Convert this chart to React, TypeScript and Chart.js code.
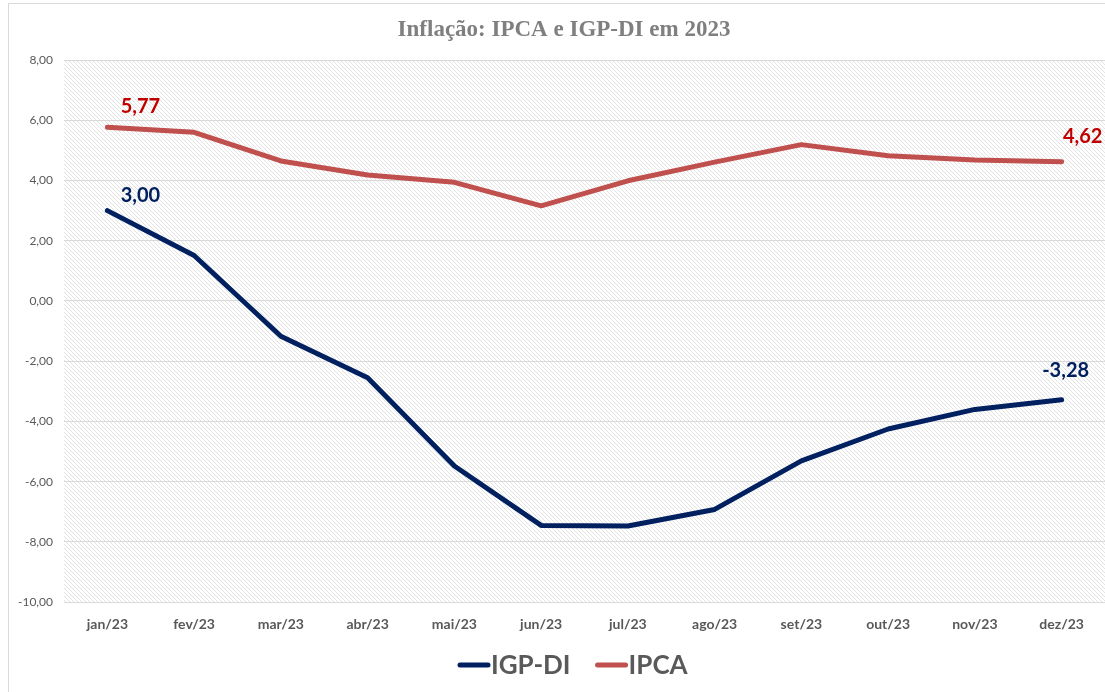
import React, { useEffect, useRef } from "react";
import { Chart, registerables } from "chart.js";

Chart.register(...registerables);

const categories = ["jan/23", "fev/23", "mar/23", "abr/23", "mai/23", "jun/23", "jul/23", "ago/23", "set/23", "out/23", "nov/23", "dez/23"];
const igpdi = [3.0, 1.51, -1.17, -2.55, -5.48, -7.45, -7.47, -6.92, -5.31, -4.25, -3.6, -3.28];
const ipca = [5.77, 5.6, 4.65, 4.18, 3.94, 3.16, 3.99, 4.61, 5.19, 4.82, 4.68, 4.62];
const seriesNames = ["IGP-DI", "IPCA"];
const titleText = "Inflação: IPCA e IGP-DI em 2023";
const yMin = -10;
const yMax = 8;
const yStep = 2;

const lineColors = ["#002060", "#c0504d"];
const labelColors = ["#002060", "#c00000"];
// [datasetIndex][first,last] offsets for end labels
const labelOffsets = [
  [[33, -15], [4, -29]],
  [[33, -21], [21, -25]],
];

function fmt(v: number) {
  return v.toFixed(2).replace(".", ",");
}

export default function App() {
  const ref = useRef<HTMLCanvasElement>(null);
  useEffect(() => {
    document.body.style.margin = "0";
    const canvas = ref.current!;
    const pc = document.createElement("canvas");
    pc.width = 4;
    pc.height = 4;
    const pctx = pc.getContext("2d")!;
    pctx.fillStyle = "#ffffff";
    pctx.fillRect(0, 0, 4, 4);
    pctx.fillStyle = "#e2e2e2";
    for (let i = 0; i < 4; i++) pctx.fillRect(i, i, 1, 1);

    const bgPlugin = {
      id: "bg",
      beforeDraw(chart: any) {
        const { ctx, chartArea } = chart;
        ctx.save();
        ctx.fillStyle = "#ffffff";
        ctx.fillRect(0, 0, chart.width, chart.height);
        const pat = ctx.createPattern(pc, "repeat");
        ctx.fillStyle = pat;
        ctx.fillRect(chartArea.left, chartArea.top, chartArea.right - chartArea.left, chartArea.bottom - chartArea.top);
        // outer frame
        ctx.strokeStyle = "#d9d9d9";
        ctx.lineWidth = 1;
        ctx.beginPath();
        ctx.moveTo(8.5, chart.height);
        ctx.lineTo(8.5, 3.5);
        ctx.lineTo(chart.width, 3.5);
        ctx.stroke();
        // title
        ctx.fillStyle = "#7f7f7f";
        ctx.font = "bold 23px 'Liberation Serif'";
        ctx.textAlign = "center";
        ctx.textBaseline = "middle";
        ctx.fillText(titleText, 564, 30);
        ctx.restore();
      },
      afterDatasetsDraw(chart: any) {
        const { ctx } = chart;
        ctx.save();
        ctx.font = "bold 20px Lato";
        ctx.textAlign = "center";
        ctx.textBaseline = "middle";
        chart.data.datasets.forEach((ds: any, di: number) => {
          const meta = chart.getDatasetMeta(di);
          const idxs = [0, ds.data.length - 1];
          idxs.forEach((idx, k) => {
            const pt = meta.data[idx];
            const [dx, dy] = labelOffsets[di][k];
            ctx.fillStyle = labelColors[di];
            ctx.fillText(fmt(ds.data[idx]), pt.x + dx, pt.y + dy);
          });
        });
        ctx.restore();
      },
      afterDraw(chart: any) {
        const { ctx } = chart;
        ctx.save();
        ctx.font = "bold 26px Lato";
        ctx.textBaseline = "middle";
        ctx.textAlign = "left";
        const y = 665;
        let x = 458;
        seriesNames.forEach((name, i) => {
          ctx.strokeStyle = lineColors[i];
          ctx.lineWidth = 5;
          ctx.lineCap = "round";
          ctx.beginPath();
          ctx.moveTo(x + 2, y);
          ctx.lineTo(x + 30, y);
          ctx.stroke();
          ctx.fillStyle = "#595959";
          ctx.fillText(name, x + 33, y + 1);
          x += 33 + ctx.measureText(name).width + 25;
        });
        ctx.restore();
      },
    };

    const chart = new Chart(canvas, {
      type: "line",
      data: {
        labels: categories,
        datasets: [
          { label: seriesNames[0], data: igpdi, borderColor: lineColors[0], backgroundColor: lineColors[0], borderWidth: 5, pointRadius: 0, tension: 0, borderCapStyle: "round", borderJoinStyle: "round" },
          { label: seriesNames[1], data: ipca, borderColor: lineColors[1], backgroundColor: lineColors[1], borderWidth: 5, pointRadius: 0, tension: 0, borderCapStyle: "round", borderJoinStyle: "round" },
        ],
      },
      options: {
        animation: false,
        responsive: false,
        layout: { padding: { top: 60, bottom: 45, left: 0, right: 0 } },
        plugins: { legend: { display: false }, title: { display: false }, tooltip: { enabled: false } },
        scales: {
          x: {
            offset: true,
            grid: { display: false, drawTicks: false },
            border: { display: false },
            ticks: { color: "#595959", font: { family: "Lato", size: 14, weight: "bold" }, padding: 14 },
          },
          y: {
            min: yMin,
            max: yMax,
            afterFit(scale: any) { scale.width = 64; },
            grid: { color: "#d9d9d9", drawTicks: false },
            border: { display: false },
            ticks: {
              stepSize: yStep,
              color: "#595959",
              padding: 11,
              font: { family: "Lato", size: 12 },
              callback: (v: any) => fmt(Number(v)),
            },
          },
        },
      },
      plugins: [bgPlugin],
    } as any);
    return () => chart.destroy();
  }, []);
  return <canvas ref={ref} width={1105} height={692} style={{ display: "block" }} />;
}
